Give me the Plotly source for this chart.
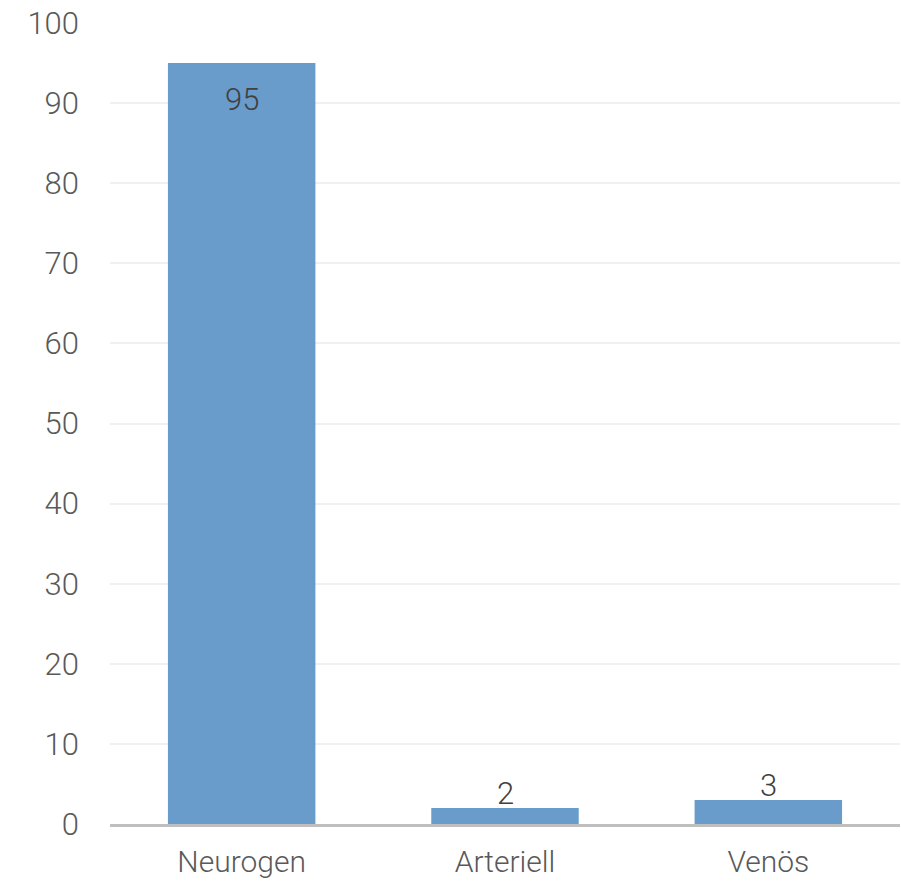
import plotly.graph_objects as go

categories = ["Neurogen", "Arteriell", "Venös"]
values = [95, 2, 3]
y_ticks = [0, 10, 20, 30, 40, 50, 60, 70, 80, 90, 100]

BAR = "#699BCB"
FONT = "Roboto, Liberation Sans, Arial, sans-serif"
W = 300

fig = go.Figure()
fig.add_trace(go.Bar(
    x=categories, y=values, marker=dict(color=BAR, line=dict(width=0)),
    hoverinfo="skip",
))

for c, v in zip(categories, values):
    if v > 10:
        fig.add_annotation(x=c, y=v, text=str(v), showarrow=False,
                           yanchor="top", yshift=-16,
                           font=dict(family=FONT, size=31, color="#404040", weight=W))
    else:
        fig.add_annotation(x=c, y=v, text=str(v), showarrow=False,
                           yanchor="bottom", yshift=-6,
                           font=dict(family=FONT, size=31, color="#404040", weight=W))

fig.update_layout(
    width=901, height=883,
    margin=dict(l=110, r=1, t=23, b=59),
    paper_bgcolor="white", plot_bgcolor="white",
    bargap=0.44, showlegend=False,
    font=dict(family=FONT, size=31, color="#595959", weight=W),
)
fig.update_yaxes(
    range=[0, 100], tickvals=y_ticks, showgrid=True, gridcolor="#F0F0F0",
    gridwidth=2, zeroline=False, showline=False, ticks="",
    ticklabelstandoff=30, automargin=False,
    tickfont=dict(family=FONT, size=31, color="#595959", weight=W),
)
fig.update_xaxes(
    showline=True, linecolor="#BFBFBF", linewidth=3, ticks="",
    ticklabelstandoff=9, automargin=False,
    tickfont=dict(family=FONT, size=30, color="#595959", weight=W),
)

fig.write_html("out.html")
